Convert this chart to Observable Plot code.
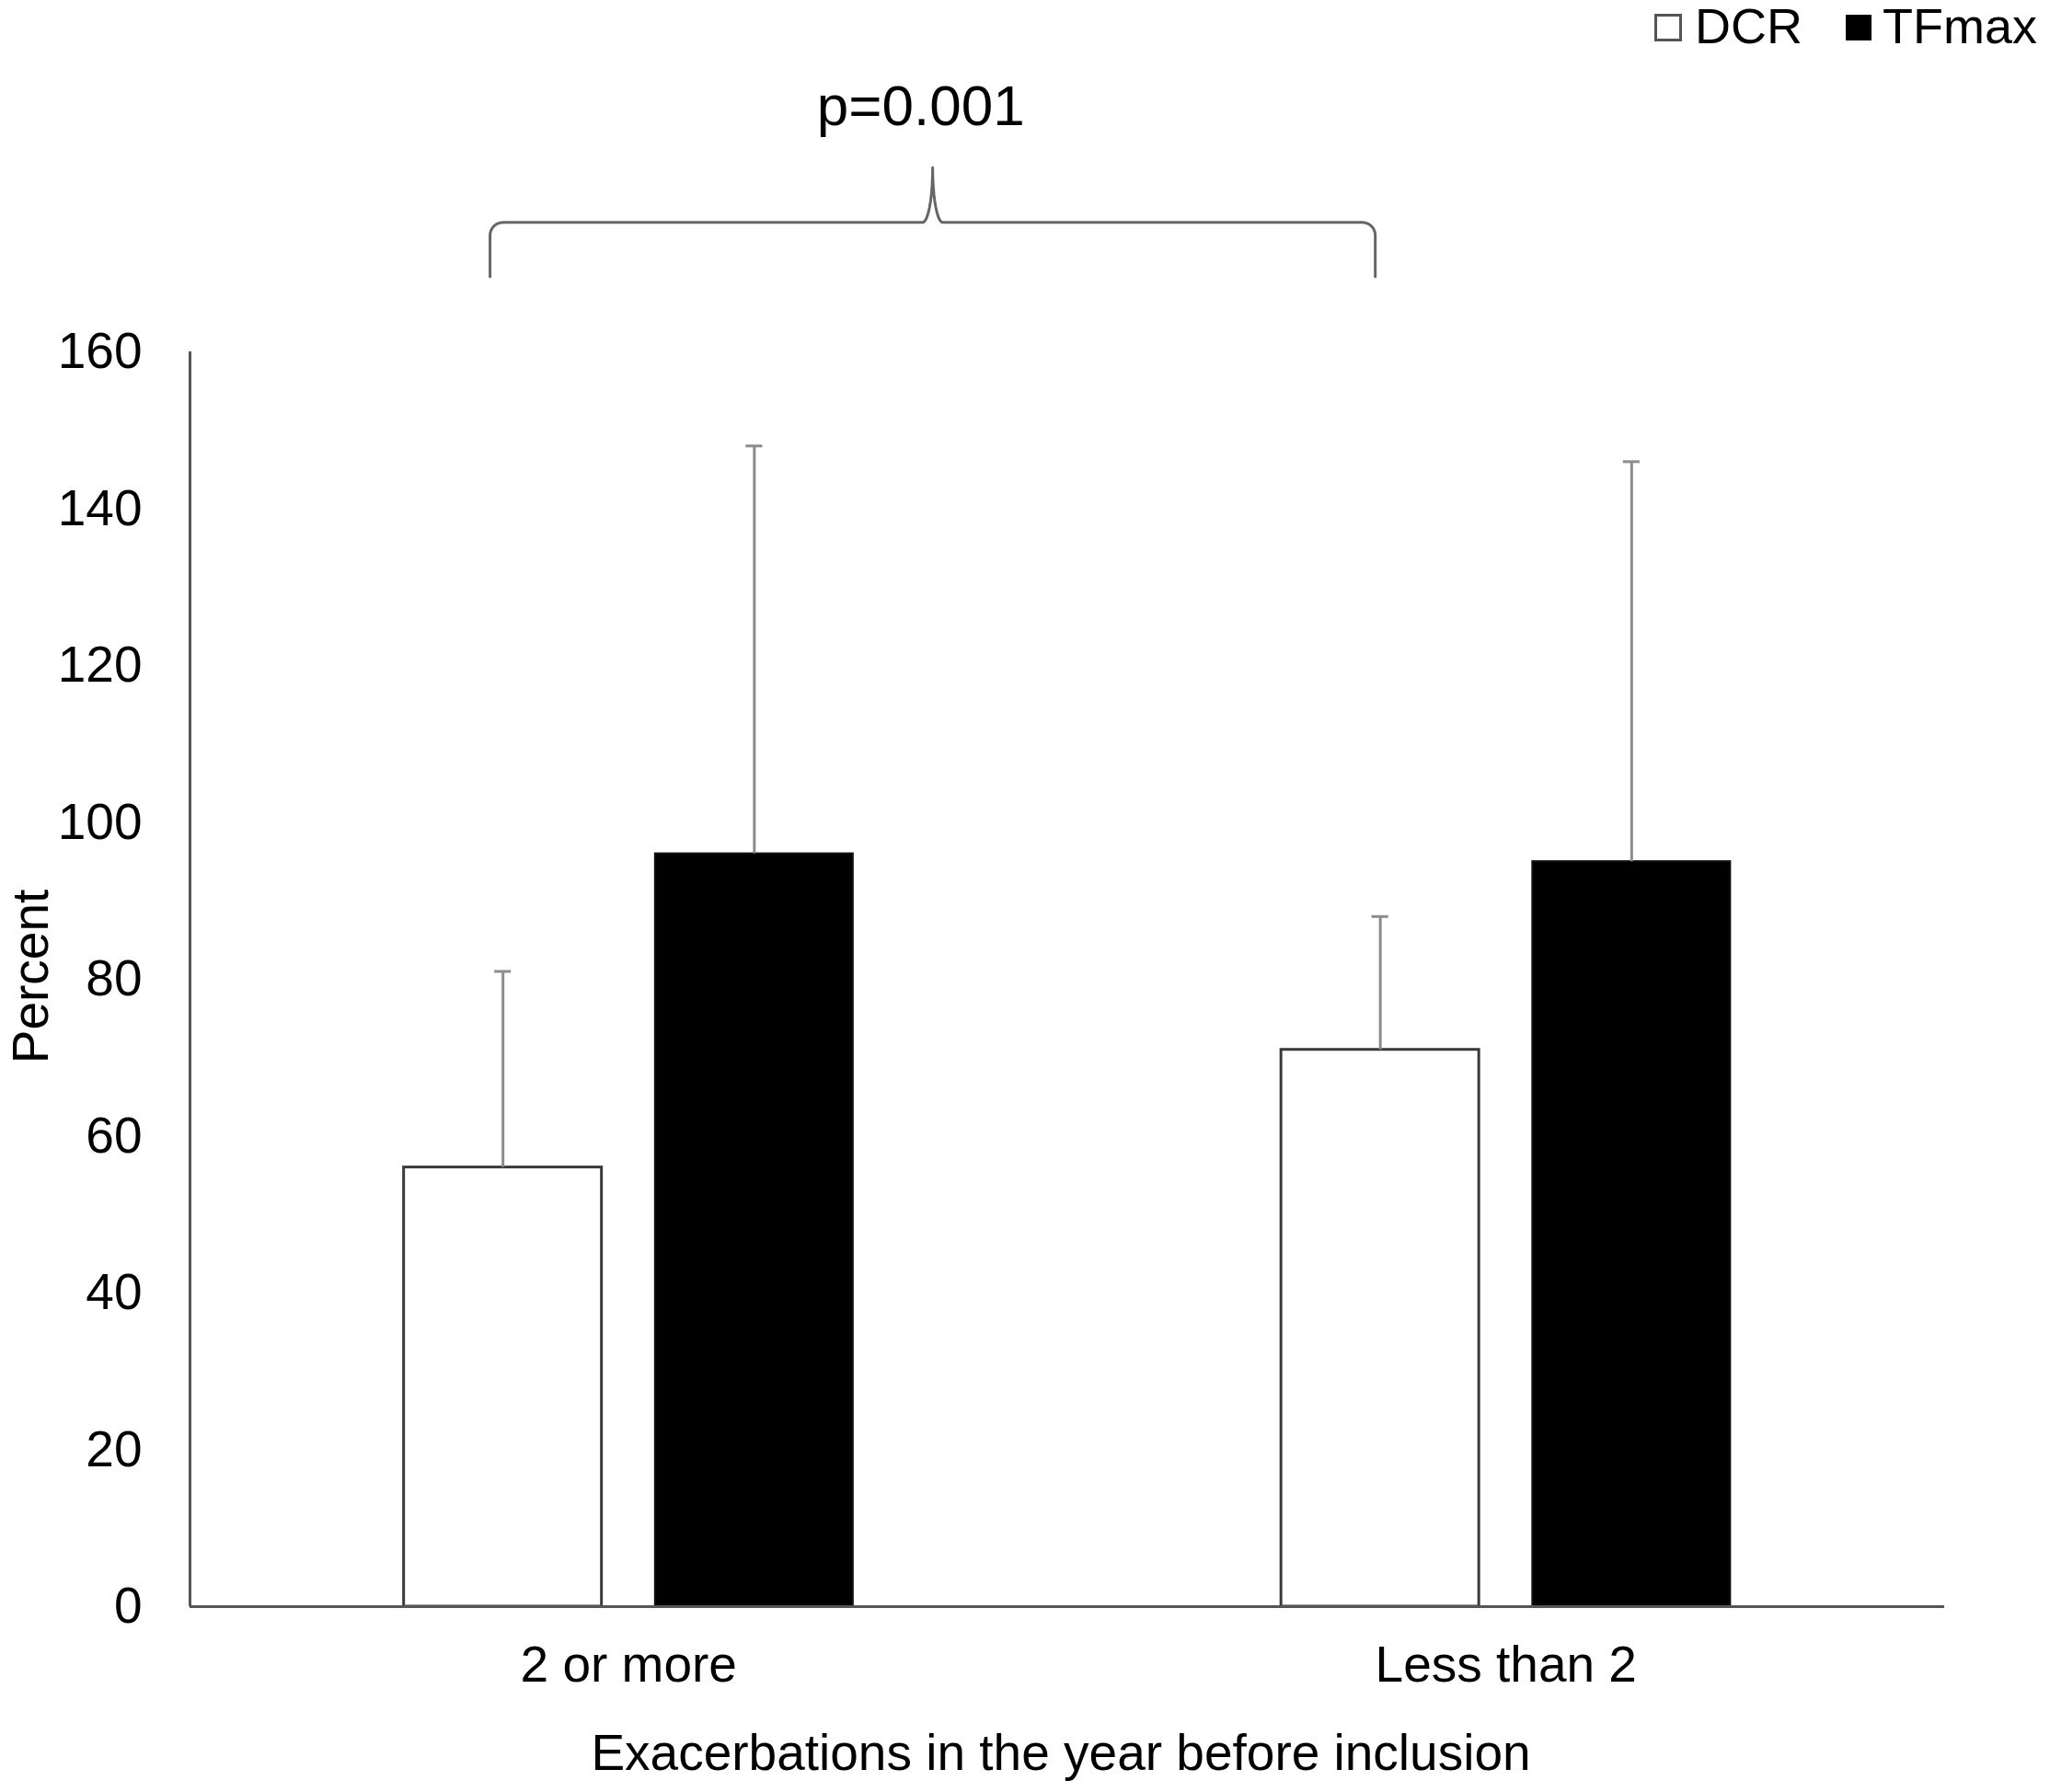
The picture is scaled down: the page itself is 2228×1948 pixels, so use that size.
<!DOCTYPE html>
<html>
<head>
<meta charset="utf-8">
<script src="https://cdn.jsdelivr.net/npm/d3@7"></script>
<script src="https://cdn.jsdelivr.net/npm/@observablehq/plot@0.6"></script>
<style>
  html, body { margin: 0; padding: 0; background: #fff; }
  body { font-family: "Liberation Sans", Arial, sans-serif; color: #000; }
  #legend { position: relative; width: 2228px; height: 56px; }
  #legend .box { position: absolute; box-sizing: border-box; }
  #legend .lab { position: absolute; top: 0; font-size: 54px; line-height: 56px; white-space: nowrap; }
  #chart { width: 2228px; }
</style>
</head>
<body>
<div id="legend"></div>
<div id="chart"></div>
<script>
// ---- data ----
const categories = ["2 or more", "Less than 2"];
const seriesNames = ["DCR", "TFmax"];
const dcrMean = [56, 71];
const dcrUpper = [81, 88];
const tfmaxMean = [96, 95];
const tfmaxUpper = [148, 146];
const yTicks = [0, 20, 40, 60, 80, 100, 120, 140, 160];
const pLabel = "p=0.001";
const xTitle = "Exacerbations in the year before inclusion";
const yTitle = "Percent";

// ---- table ----
const means = [dcrMean, tfmaxMean];
const uppers = [dcrUpper, tfmaxUpper];
const rows = [];
categories.forEach((c, gi) => {
  seriesNames.forEach((s, si) => {
    rows.push({category: c, gi, series: s, si, value: means[si][gi], upper: uppers[si][gi]});
  });
});

// ---- layout in group units (one group = 1 unit on x) ----
const barW = 0.2255, barGap = 0.061, capHalf = 0.0095;
const left = d => d.gi + 0.5 + (d.si === 0 ? -barGap / 2 - barW : barGap / 2);
const right = d => left(d) + barW;
const mid = d => left(d) + barW / 2;

// significance bracket (annotation, in data units)
const bL = 0.342, bR = 1.351, bM = (bL + bR) / 2;
const yBase = 169.6, yBar = 176.5, yPeak = 183.5;
const cRx = 0.0147, cRy = 1.64;   // corner radius
const sRx = 0.0115;               // spike half width
const steps = d3.range(0, 1.0001, 1 / 12).map(t => t * Math.PI / 2);
const bracket = [];
bracket.push([bL, yBase]);
steps.forEach(t => bracket.push([bL + cRx - cRx * Math.cos(t), yBar - cRy + cRy * Math.sin(t)]));
steps.forEach(t => bracket.push([bM - sRx + sRx * Math.sin(t), yPeak - (yPeak - yBar) * Math.cos(t)]));
steps.slice().reverse().forEach(t => bracket.push([bM + sRx - sRx * Math.sin(t), yPeak - (yPeak - yBar) * Math.cos(t)]));
steps.slice().reverse().forEach(t => bracket.push([bR - cRx + cRx * Math.cos(t), yBar - cRy + cRy * Math.sin(t)]));
bracket.push([bR, yBase]);

// ---- legend ----
const legend = document.getElementById("legend");
legend.innerHTML = `
  <div class="box" style="left:1798px;top:15px;width:30px;height:30px;border:3px solid #555;background:#fff"></div>
  <div class="lab" style="left:1842px">${seriesNames[0]}</div>
  <div class="box" style="left:2006px;top:16px;width:28px;height:28px;background:#000"></div>
  <div class="lab" style="left:2046px">${seriesNames[1]}</div>`;

// ---- chart ----
const chart = Plot.plot({
  width: 2228,
  height: 1892,
  marginTop: 326,
  marginBottom: 202,
  marginLeft: 206,
  marginRight: 115,
  style: {fontFamily: "Liberation Sans, Arial, sans-serif", fontSize: "55px", color: "#000", background: "#fff"},
  x: {
    domain: [0, categories.length],
    ticks: categories.map((_, i) => i + 0.5),
    tickFormat: v => categories[Math.floor(v)],
    tickSize: 0,
    tickPadding: 42,
    label: null
  },
  y: {domain: [0, 160], ticks: yTicks, tickSize: 0, tickPadding: 52, label: null},
  color: {domain: seriesNames, range: ["#ffffff", "#000000"]},
  marks: [
    Plot.rect(rows, {filter: d => d.si === 0, x1: left, x2: right, y1: 0, y2: "value", fill: "series", stroke: "#3a3a3a", strokeWidth: 3}),
    Plot.rect(rows, {filter: d => d.si === 1, x1: left, x2: right, y1: 0, y2: "value", fill: "series", stroke: "#111", strokeWidth: 2}),
    Plot.ruleX(rows, {x: mid, y1: "value", y2: "upper", stroke: "#8c8c8c", strokeWidth: 3}),
    Plot.ruleY(rows, {y: "upper", x1: d => mid(d) - capHalf, x2: d => mid(d) + capHalf, stroke: "#8c8c8c", strokeWidth: 3}),
    Plot.ruleY([0], {stroke: "#555", strokeWidth: 3}),
    Plot.ruleX([0], {stroke: "#555", strokeWidth: 3}),
    Plot.line(bracket, {x: d => d[0], y: d => d[1], stroke: "#666", strokeWidth: 3, strokeLinejoin: "round"}),
    Plot.text([pLabel], {x: () => 0.833, y: () => 191.3, fontSize: 62, lineAnchor: "middle", textAnchor: "middle", fill: "#000"}),
    Plot.text([yTitle], {frameAnchor: "left", dx: -172, dy: -3, rotate: -90, textAnchor: "middle", lineAnchor: "middle", fontSize: 55, fill: "#000"}),
    Plot.text([xTitle], {frameAnchor: "bottom", dx: -7, dy: 160, textAnchor: "middle", lineAnchor: "middle", fontSize: 55, fill: "#000"})
  ]
});
document.getElementById("chart").appendChild(chart);
</script>
</body>
</html>
